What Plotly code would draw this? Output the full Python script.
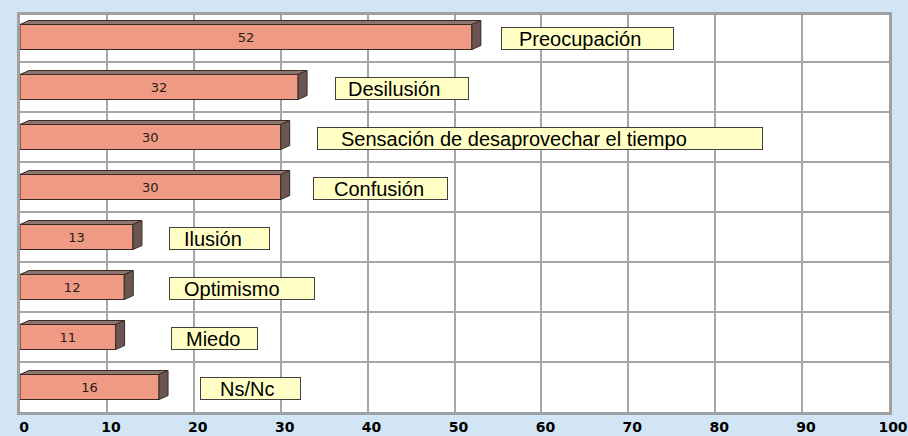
import plotly.graph_objects as go

# Datos
categorias = ["Preocupación", "Desilusión", "Sensación de desaprovechar el tiempo",
              "Confusión", "Ilusión", "Optimismo", "Miedo", "Ns/Nc"]
valores = [52, 32, 30, 30, 13, 12, 11, 16]
ticks_x = [0, 10, 20, 30, 40, 50, 60, 70, 80, 90, 100]

# Estilo de las etiquetas (px)
separacion = [29, 37, 36, 32, 36, 45, 55, 41]
ancho_caja = [173, 134, 446, 135, 101, 146, 87, 101]
margen_texto = [16, 11, 22, 19, 13, 13, 13, 18]

W, H = 908, 436
ML, MR, MT, MB = 20, 19, 15, 24
px_x = (W - ML - MR) / 100.0
px_y = 50.0
y_top = 7.5 - (H - MT - MB) / px_y

idx = list(range(len(valores)))
fig = go.Figure()
fig.add_trace(go.Bar(
    x=valores, y=idx, orientation="h", width=0.5,
    marker=dict(color="#EE9A85", line=dict(color="#3A2A26", width=1)),
    text=[str(v) for v in valores], textposition="inside",
    insidetextanchor="middle",
    textfont=dict(family="DejaVu Sans", size=13, color="#2A1A16"),
    hoverinfo="skip", showlegend=False,
))

# caras 3D
dx = 9 / px_x
dy = 4 / px_y
shapes = []
for i, v in zip(idx, valores):
    t, b = i - 0.25, i + 0.25
    shapes.append(dict(
        type="path", xref="x", yref="y", layer="above",
        path=f"M0,{t} L{v},{t} L{v + dx},{t - dy} L{dx},{t - dy} Z",
        fillcolor="#8E7670", line=dict(color="#3A2A26", width=1)))
    shapes.append(dict(
        type="path", xref="x", yref="y", layer="above",
        path=f"M{v},{t} L{v + dx},{t - dy} L{v + dx},{b - dy} L{v},{b} Z",
        fillcolor="#6A5550", line=dict(color="#3A2A26", width=1)))

annotations = []
for i, (c, v, g, w, p) in enumerate(zip(categorias, valores, separacion, ancho_caja, margen_texto)):
    annotations.append(dict(
        x=v, y=i + 0.03, xref="x", yref="y", xanchor="left", yanchor="middle",
        xshift=g, text="\u00a0", showarrow=False, width=w - 2, height=21,
        bgcolor="#FFFFC6", bordercolor="#404040", borderwidth=1, borderpad=0,
        font=dict(size=10)))
    annotations.append(dict(
        x=v, y=i + 0.03, xref="x", yref="y", xanchor="left", yanchor="middle",
        xshift=g + p, text=c, showarrow=False,
        font=dict(family="Liberation Sans, Arial", size=20, color="#000000")))

fig.update_layout(
    width=W, height=H,
    margin=dict(l=ML, r=MR, t=MT, b=MB),
    paper_bgcolor="#D2E5F4", plot_bgcolor="#FFFFFF",
    shapes=shapes, annotations=annotations,
    xaxis=dict(range=[0, 100], tickvals=ticks_x, ticktext=[str(t) for t in ticks_x],
               showgrid=True, gridcolor="#A6A6A6", gridwidth=2,
               showline=True, mirror=True, linecolor="#A0A0A0", linewidth=3,
               zeroline=False, ticks="", ticklabelshift=4, ticklabelstandoff=0,
               ticklabeloverflow="allow", automargin=False,
               tickfont=dict(family="DejaVu Sans", size=14, color="#000000", weight="bold")),
    yaxis=dict(range=[7.5, y_top], tickvals=[k + 0.5 for k in idx[:-1]],
               showticklabels=False, showgrid=True, gridcolor="#A6A6A6", gridwidth=2,
               showline=True, mirror=True, linecolor="#A0A0A0", linewidth=3,
               zeroline=False, ticks="", automargin=False),
)

fig.write_html("out.html", config={"displayModeBar": False},
               post_script="document.body.style.margin='0';")
